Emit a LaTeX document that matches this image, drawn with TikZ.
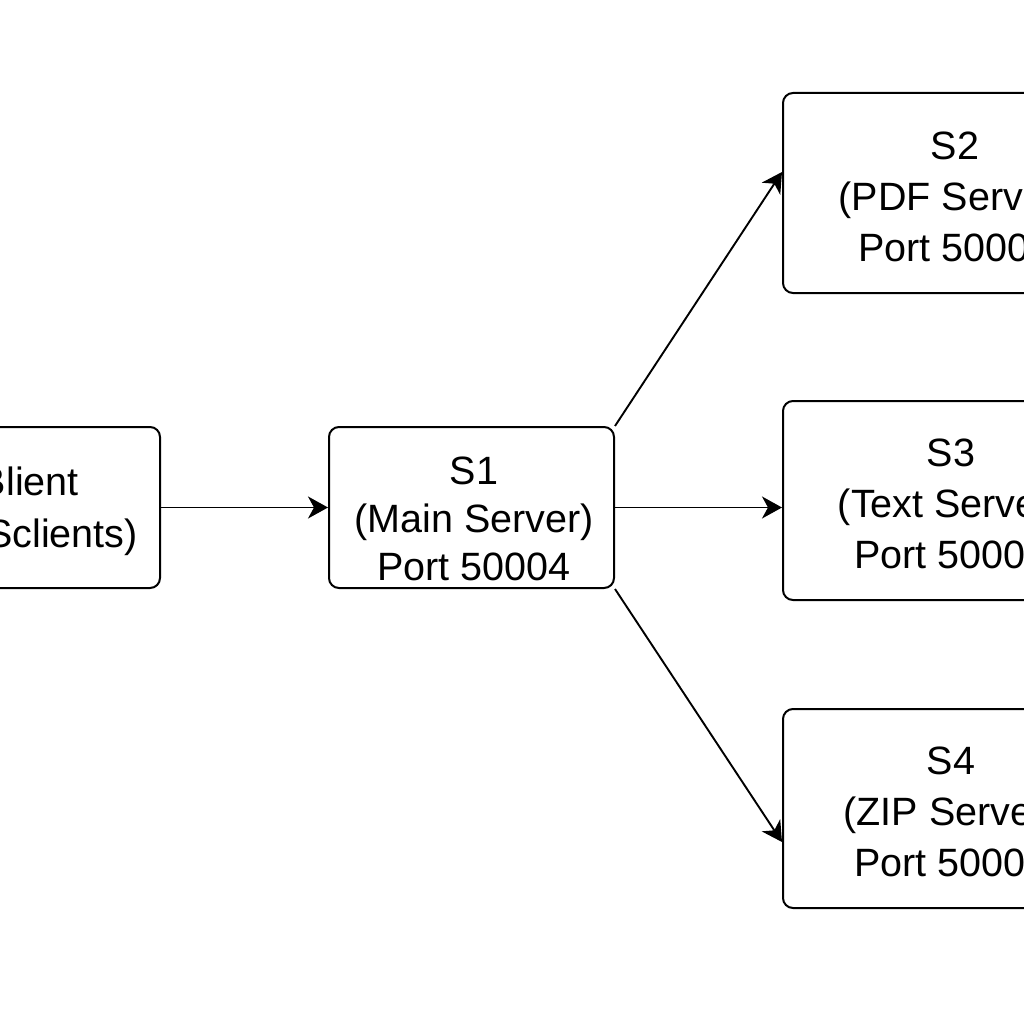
\documentclass[tikz,border=0pt]{standalone}
\usepackage{fontspec}
\setmainfont{Liberation Sans}
\usetikzlibrary{arrows.meta,calc}
\begin{document}
\begin{tikzpicture}[x=1pt,y=-1pt,
  srvbox/.style={draw=black, line width=2pt, rounded corners=10pt, inner sep=0pt},
  srvtxt/.style={inner sep=0pt, align=center, font=\fontsize{39.5}{51}\selectfont, anchor=north},
  clitxt/.style={inner sep=0pt, font=\fontsize{39.5}{51}\selectfont, anchor=base east},
  arr/.style={draw=black, line width=1.9pt, -{Stealth[length=20pt,width=22pt,inset=6pt]}}
]
\useasboundingbox (0,0) rectangle (1024,1024);
\fill[white] (0,0) rectangle (1024,1024);
\clip (0,0) rectangle (1024,1024);

% boxes
\node[srvbox, minimum width=310pt, minimum height=161pt] (client) at (5,507.5) {};
\node[srvbox, minimum width=285pt, minimum height=161pt] (s1) at (471.5,507.5) {};
\node[srvbox, minimum width=334pt, minimum height=200pt] (s2) at (950,193) {};
\node[srvbox, minimum width=334pt, minimum height=199pt] (s3) at (950,500.5) {};
\node[srvbox, minimum width=334pt, minimum height=199pt] (s4) at (950,808.5) {};

% texts
\node[clitxt] (clientA) at (79,495) {Blient};
\node[clitxt] (clientB) at (138,547) {Sclients)};
\node[srvtxt, font=\fontsize{39.5}{48}\selectfont] (s1t) at (474,456.5) {S1\\(Main Server)\\Port 50004};
\node[srvtxt] (s2t) at (955,131.5) {S2\\(PDF Server)\\Port 50001};
\node[srvtxt] (s3t) at (951,438.5) {S3\\(Text Server)\\Port 50002};
\node[srvtxt] (s4t) at (951,746.5) {S4\\(ZIP Server)\\Port 50003};

% connectors
\draw[arr] (client.east) -- (s1.west);
\draw[arr] (s1.north east) -- ($(s2.west)+(0,-21)$);
\draw[arr] (s1.east) -- (s1.east -| s3.west);
\draw[arr] (s1.south east) -- ($(s4.west)+(0,33.5)$);
\end{tikzpicture}
\end{document}
